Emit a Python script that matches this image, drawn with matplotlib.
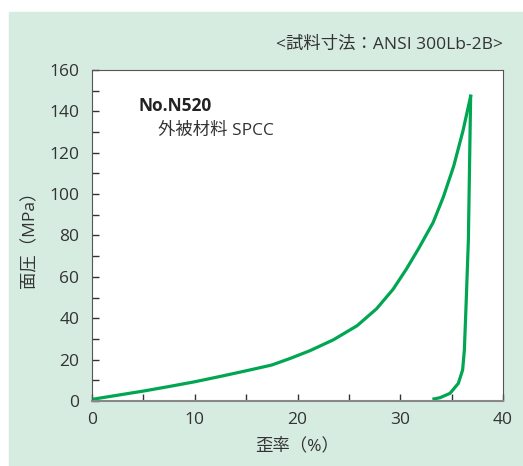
import matplotlib
matplotlib.use('Agg')
import matplotlib.pyplot as plt
from matplotlib.patches import Rectangle
from matplotlib.ticker import MultipleLocator
import numpy as np

plt.rcParams['font.family'] = ['Open Sans', 'Noto Sans CJK JP', 'DejaVu Sans']

# loading curve (strain %, stress MPa)
load_strain = [0, 2.5, 5, 7.5, 10, 12.5, 15, 17.5, 19.3, 21.2, 23.5, 25.8,
               27.7, 29.3, 30.6, 31.8, 33.2, 34.2, 35.2, 36.1, 36.85]
load_stress = [0.8, 2.8, 4.8, 7.0, 9.3, 11.9, 14.6, 17.4, 20.6, 24.3, 29.6, 36.4,
               44.6, 54.0, 63.8, 73.8, 86.3, 98.7, 113.5, 130.5, 147.3]
# unloading curve
unload_strain = [36.85, 36.63, 36.4, 36.24, 36.07, 35.65, 34.84, 33.87, 33.28]
unload_stress = [147.3, 77.8, 45.6, 24.6, 15.0, 8.5, 3.7, 1.6, 1.0]

green = '#00a651'
bg = '#d6ece1'
txt = '#333333'

fig = plt.figure(figsize=(5.23, 4.66), dpi=100)
fig.patches.append(Rectangle((9 / 523, 0), 1, (466 - 12) / 466,
                             transform=fig.transFigure, color=bg, zorder=-10))

ax = fig.add_axes([92 / 523, 65 / 466, 411 / 523, 331 / 466])
ax.plot(load_strain, load_stress, color=green, lw=2.3, solid_joinstyle='round')
ax.plot(unload_strain, unload_stress, color=green, lw=2.3, solid_joinstyle='round')

ax.set_xlim(0, 40)
ax.set_ylim(0, 160)
ax.xaxis.set_major_locator(MultipleLocator(10))
ax.xaxis.set_minor_locator(MultipleLocator(5))
ax.yaxis.set_major_locator(MultipleLocator(20))
ax.yaxis.set_minor_locator(MultipleLocator(10))
ax.tick_params(which='both', direction='in', length=5, width=1, color=txt,
               labelsize=12.5, labelcolor=txt)
ax.tick_params(axis='x', pad=8)
ax.tick_params(axis='y', pad=9)
for s in ['left', 'top', 'right']:
    ax.spines[s].set_color('#555555')
ax.spines['bottom'].set_color('#888888')
ax.spines['bottom'].set_linewidth(1.5)

ax.set_xlabel('歪率（%）', fontsize=12.5, color=txt, labelpad=7)
ax.set_ylabel('面圧（MPa）', fontsize=12.5, color=txt, labelpad=8)

ax.text(0.112, 0.89, 'No.N520', transform=ax.transAxes, fontsize=12.5,
        fontweight='bold', color='#222222', va='center')
ax.text(0.16, 0.815, '外被材料 SPCC', transform=ax.transAxes, fontsize=12.5,
        color=txt, va='center')

fig.text(503 / 523, 1 - 45 / 466, '<試料寸法：ANSI 300Lb-2B>', fontsize=12.5,
         color=txt, ha='right', va='center')

fig.savefig('out.png', dpi=100, facecolor='white')
